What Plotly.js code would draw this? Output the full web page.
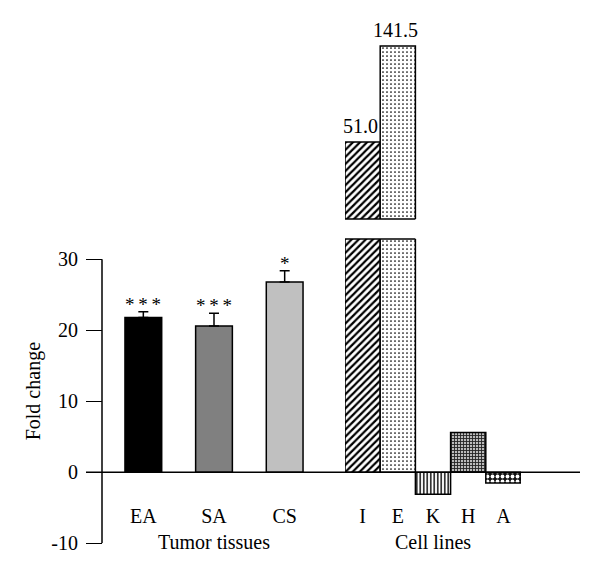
<!DOCTYPE html>
<html>
<head>
<meta charset="utf-8">
<script src="https://cdn.plot.ly/plotly-3.0.1.min.js"></script>
<style>html,body{margin:0;padding:0;background:#fff;}#chart{width:600px;height:586px;}</style>
</head>
<body>
<div id="chart"></div>
<script>
// ---- data ----
var tumorCats = ['EA', 'SA', 'CS'];
var tumorValues = [21.8, 20.6, 26.8];
var tumorErrors = [0.8, 1.8, 1.6];
var tumorStars = ['*\u2009*\u2009*', '*\u2009*\u2009*', '*'];
var cellCats = ['I', 'E', 'K', 'H', 'A'];
var cellValues = [51.0, 141.5, -3.1, 5.6, -1.5];
var brokenCats = ['I', 'E'];
var brokenValues = [51.0, 141.5];
var brokenLabels = ['51.0', '141.5'];
var yTickVals = [-10, 0, 10, 20, 30];
var yTickText = ['-10', '0', '10', '20', '30'];

// ---- styles ----
var FONT = 'Liberation Serif, Times New Roman, serif';
var W = 600, H = 586;
function px(x) { return x / W; }
function py(y) { return 1 - y / H; }
var tumorWidth = 0.52, cellWidth = 1.0;

var tumorTrace = {
  type: 'bar', x: tumorCats, y: tumorValues, xaxis: 'x', yaxis: 'y',
  width: tumorWidth,
  marker: { color: ['#000000', '#808080', '#c0c0c0'], line: { color: '#000', width: 1.5 } },
  error_y: { type: 'data', symmetric: false, array: tumorErrors, arrayminus: tumorErrors.map(function () { return 0; }),
             color: '#000', thickness: 1.5, width: 5 },
  hoverinfo: 'x+y'
};

var cellPattern = {
  shape: ['/', '.', '|', '+', '.'],
  fgcolor: ['#000', '#000', '#000', '#222', '#fff'],
  bgcolor: ['#fff', '#fff', '#fff', '#bbb', '#111'],
  size: [5, 4, 3.5, 3, 5],
  solidity: [0.45, 0.15, 0.4, 0.5, 0.45],
  fillmode: 'replace'
};

var cellTrace = {
  type: 'bar', x: cellCats, y: cellValues, xaxis: 'x2', yaxis: 'y',
  width: cellWidth,
  marker: { color: '#fff', pattern: cellPattern, line: { color: '#000', width: 1.5 } },
  hoverinfo: 'x+y'
};

var brokenTrace = {
  type: 'bar', x: brokenCats, y: brokenValues, xaxis: 'x2', yaxis: 'y3',
  width: cellWidth,
  marker: { color: '#fff', line: { color: '#000', width: 1.5 },
    pattern: { shape: cellPattern.shape.slice(0, 2), fgcolor: cellPattern.fgcolor.slice(0, 2),
               bgcolor: cellPattern.bgcolor.slice(0, 2), size: cellPattern.size.slice(0, 2),
               solidity: cellPattern.solidity.slice(0, 2), fillmode: 'replace' } },
  hoverinfo: 'x+y'
};

var labelFont = { family: FONT, size: 20, color: '#000' };
var annotations = [];
tumorCats.forEach(function (c, i) {
  annotations.push({ x: c, y: tumorValues[i] + tumorErrors[i], xref: 'x', yref: 'y',
    text: tumorStars[i], showarrow: false, yanchor: 'bottom', yshift: -5,
    font: { family: FONT, size: 19, color: '#000' } });
});
brokenCats.forEach(function (c, i) {
  // annotations on a log axis take log10 of the value
  annotations.push({ x: c, y: Math.log10(brokenValues[i]), xref: 'x2', yref: 'y3',
    text: brokenLabels[i], showarrow: false, yanchor: 'bottom', yshift: 3, xshift: -2,
    font: labelFont });
});

var iIdx = cellCats.indexOf('I'), eIdx = cellCats.indexOf('E');
var shapes = [
  { type: 'line', xref: 'paper', yref: 'y', x0: px(86), x1: px(580), y0: 0, y1: 0, line: { color: '#000', width: 1.5 } },
  { type: 'line', xref: 'paper', yref: 'y', x0: px(102), x1: px(102), y0: yTickVals[0], y1: yTickVals[yTickVals.length - 1], line: { color: '#000', width: 1.5 } },
  { type: 'line', xref: 'x2', yref: 'y domain', x0: iIdx - cellWidth / 2, x1: eIdx + cellWidth / 2, y0: 1, y1: 1, line: { color: '#000', width: 1.5 } },
  { type: 'line', xref: 'x2', yref: 'y3 domain', x0: iIdx - cellWidth / 2, x1: eIdx + cellWidth / 2, y0: 0, y1: 0, line: { color: '#000', width: 1.5 } }
];

var layout = {
  width: W, height: H,
  margin: { l: 0, r: 0, t: 0, b: 0 },
  paper_bgcolor: '#fff', plot_bgcolor: 'rgba(0,0,0,0)',
  showlegend: false,
  font: { family: FONT, color: '#000' },
  xaxis: { domain: [px(108), px(320)], type: 'category', categoryarray: tumorCats, range: [-0.5, 2.5],
    anchor: 'free', position: py(502), showline: false, ticks: '', showgrid: false, zeroline: false,
    tickfont: labelFont, title: { text: 'Tumor tissues', font: labelFont, standoff: 8 } },
  xaxis2: { domain: [px(345), px(521)], type: 'category', categoryarray: cellCats, range: [-0.5, 4.5],
    anchor: 'free', position: py(502), showline: false, ticks: '', showgrid: false, zeroline: false,
    tickfont: labelFont, title: { text: 'Cell lines', font: labelFont, standoff: 8 } },
  yaxis: { domain: [py(543.3), py(239)], range: [-10, 32.86], anchor: 'free', position: px(102),
    showline: false, ticks: 'outside', ticklen: 16, tickwidth: 1.5, tickcolor: '#000', ticklabelstandoff: 4,
    showgrid: false, zeroline: false, tickvals: yTickVals, ticktext: yTickText, tickfont: labelFont,
    title: { text: 'Fold change', font: labelFont, standoff: 4 } },
  yaxis3: { type: 'log', domain: [py(219), py(30)], range: [1.35208, 2.22465], anchor: 'x2', visible: false },
  annotations: annotations,
  shapes: shapes
};

Plotly.newPlot('chart', [tumorTrace, cellTrace, brokenTrace], layout, { staticPlot: true });
</script>
</body>
</html>
